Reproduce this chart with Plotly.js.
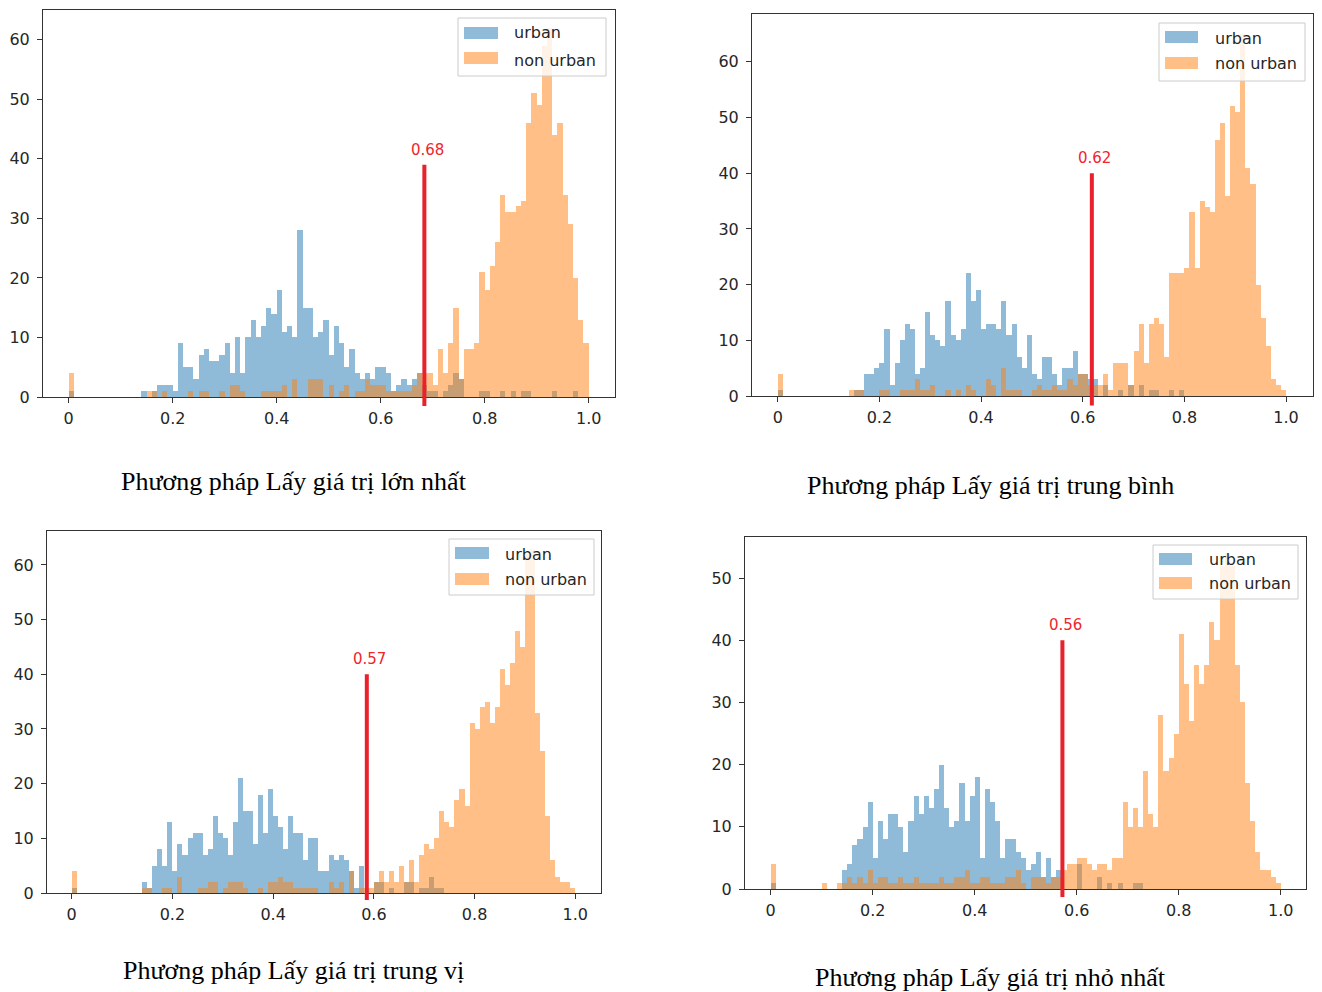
<!DOCTYPE html>
<html><head><meta charset="utf-8">
<script src="https://cdn.plot.ly/plotly-3.0.1.min.js"></script>
<style>html,body{margin:0;padding:0;background:#fff}#chart{width:1322px;height:992px}</style>
</head><body><div id="chart"></div>
<script>
// ---------- DATA ----------
const binWidth = 0.01;
const nBins = 100;
const seriesNames = ['urban', 'non urban'];
const captions = [
  'Phương pháp Lấy giá trị lớn nhất',
  'Phương pháp Lấy giá trị trung bình',
  'Phương pháp Lấy giá trị trung vị',
  'Phương pháp Lấy giá trị nhỏ nhất'
];
const thresholdLabels = ['0.68', '0.62', '0.57', '0.56'];
const thresholdPos = [0.684, 0.618, 0.586, 0.572];
const thresholdTop = [39, 40, 40, 40];
const thresholdBottom = [-1.5, -1.7, -1.3, -1.3];

const xTickVals = [0, 0.2, 0.4, 0.6, 0.8, 1.0];
const xTickText = ['0', '0.2', '0.4', '0.6', '0.8', '1.0'];
const yTickVals60 = [0, 10, 20, 30, 40, 50, 60];
const yTickVals50 = [0, 10, 20, 30, 40, 50];

// Panel 1: Lấy giá trị lớn nhất
const urban1 = [
  1,0,0,0,0,0,0,0,0,0,
  0,0,0,0,1,0,1,2,2,2,
  1,9,5,5,3,7,8,6,6,7,
  9,4,10,4,10,13,10,12,15,14,
  18,11,12,10,28,15,15,10,11,13,
  7,12,9,5,8,4,3,4,3,5,
  5,4,1,2,3,2,3,4,2,1,
  1,0,1,2,4,3,0,0,0,1,
  1,0,0,1,0,1,0,1,1,0,
  0,0,0,1,0,0,0,1,0,0];
const nonUrban1 = [
  4,0,0,0,0,0,0,0,0,0,
  0,0,0,0,0,1,1,0,1,0,
  0,0,0,1,0,1,1,0,0,1,
  0,2,2,1,0,0,0,1,1,1,
  1,2,0,3,0,0,3,3,3,0,
  2,0,1,2,0,1,1,3,2,2,
  2,1,1,1,1,1,2,4,4,4,
  2,8,4,9,15,3,8,8,9,21,
  18,22,26,34,31,31,32,33,46,51,
  49,59,62,44,46,34,29,20,13,9];

// Panel 2: Lấy giá trị trung bình
const urban2 = [
  1,0,0,0,0,0,0,0,0,0,
  0,0,0,0,0,1,1,4,4,5,
  6,12,2,6,10,13,12,4,5,15,
  11,10,9,17,11,10,12,22,17,19,
  12,13,13,12,17,11,13,7,5,11,
  4,3,7,7,4,2,5,5,8,4,
  4,3,3,0,2,0,0,1,0,2,
  0,2,0,1,1,0,0,1,0,1,
  0,0,0,0,0,0,0,0,0,0,
  0,0,0,0,0,0,0,0,0,0];
const nonUrban2 = [
  4,0,0,0,0,0,0,0,0,0,
  0,0,0,0,1,1,1,0,0,0,
  1,1,0,0,1,1,1,3,1,1,
  2,0,0,1,0,1,0,2,1,0,
  0,3,2,0,5,1,1,1,0,0,
  1,2,1,1,2,1,1,3,2,4,
  4,2,2,2,4,1,6,6,6,2,
  8,13,6,13,14,13,7,22,22,22,
  23,33,23,35,34,33,46,49,36,52,
  51,65,41,38,20,14,9,3,2,1];

// Panel 3: Lấy giá trị trung vị
const urban3 = [
  1,0,0,0,0,0,0,0,0,0,
  0,0,0,0,2,1,5,8,5,13,
  4,9,7,10,11,11,7,8,14,11,
  10,7,13,21,15,15,9,18,11,19,
  14,12,8,14,11,11,6,10,10,4,
  4,7,6,7,6,4,1,5,0,0,
  2,2,0,1,0,0,2,2,0,1,
  1,3,1,1,0,0,0,0,0,0,
  0,0,0,0,0,0,0,0,0,0,
  0,0,0,0,0,0,0,0,0,0];
const nonUrban3 = [
  4,0,0,0,0,0,0,0,0,0,
  0,0,0,0,1,1,0,0,1,1,
  0,3,0,0,0,1,1,2,2,0,
  1,2,2,2,1,0,0,1,0,2,
  2,3,2,2,1,1,1,1,1,0,
  0,2,1,2,0,4,0,1,1,1,
  2,4,2,4,2,5,2,6,2,7,
  9,8,10,15,13,12,17,19,16,31,
  30,34,35,31,34,41,38,42,48,45,
  62,63,33,26,14,6,3,2,2,1];

// Panel 4: Lấy giá trị nhỏ nhất
const urban4 = [
  1,0,0,0,0,0,0,0,0,0,
  0,0,0,0,3,4,7,8,10,14,
  5,11,8,12,12,10,6,11,15,12,
  15,13,16,20,13,10,11,17,11,15,
  18,5,16,14,11,5,8,8,6,5,
  3,4,6,2,5,2,3,0,0,0,
  4,0,0,0,2,0,1,0,1,0,
  0,1,1,0,0,0,0,0,0,0,
  0,0,0,0,0,0,0,0,0,0,
  0,0,0,0,0,0,0,0,0,0];
const nonUrban4 = [
  4,0,0,0,0,0,0,0,0,0,
  1,0,0,1,1,2,1,2,1,3,
  1,2,2,1,1,2,1,1,2,1,
  1,1,1,2,1,1,2,2,3,1,
  1,2,2,1,1,1,2,2,3,1,
  0,2,2,2,1,2,2,3,4,4,
  5,5,4,3,4,4,3,5,5,14,
  10,13,10,19,12,10,28,19,21,25,
  41,33,27,36,33,36,43,40,52,54,
  52,36,30,17,11,6,3,3,2,1];

const urbanSeries = [urban1, urban2, urban3, urban4];
const nonUrbanSeries = [nonUrban1, nonUrban2, nonUrban3, nonUrban4];

// ---------- LAYOUT (pixel geometry) ----------
const W = 1322, H = 992;
const px = v => v / W;
const py = v => 1 - v / H;
const boxes = [
  {l: 43, r: 615, t: 10, b: 397},
  {l: 752, r: 1313, t: 14, b: 396},
  {l: 47, r: 601, t: 531, b: 893},
  {l: 745, r: 1306, t: 537, b: 889}
];
const xRanges = [[-0.0494, 1.0506], [-0.0506, 1.0531], [-0.049, 1.051], [-0.0504, 1.0496]];
const yMax = [65, 68.6, 66.2, 56.6];
const legendBoxes = [
  {l: 458, r: 606, t: 18, b: 76, sl: 464, sr: 498, s1: [27, 39], s2: [52, 64], tx: 512, c1: 33, c2: 60},
  {l: 1159, r: 1305, t: 23, b: 81, sl: 1165, sr: 1198, s1: [31, 43], s2: [57, 69], tx: 1213, c1: 38, c2: 64},
  {l: 449, r: 594, t: 539, b: 595, sl: 455, sr: 489, s1: [547, 559], s2: [573, 585], tx: 503, c1: 554, c2: 579},
  {l: 1153, r: 1298, t: 545, b: 599, sl: 1159, sr: 1192, s1: [553, 565], s2: [577, 589], tx: 1207, c1: 559, c2: 583}
];
const captionPos = [[294, 481], [990, 485], [293, 970], [990, 977]];

const blueFill = 'rgba(31,119,180,0.5)';
const orangeFill = 'rgba(255,127,14,0.5)';
const redColor = '#e8212b';
const tickFont = {family: 'DejaVu Sans, sans-serif', size: 16, color: '#262626'};

const binCenters = Array.from({length: nBins}, (_, i) => (i + 0.5) * binWidth);

const traces = [];
const layout = {
  width: W, height: H,
  margin: {l: 0, r: 0, t: 0, b: 0},
  paper_bgcolor: '#ffffff', plot_bgcolor: '#ffffff',
  barmode: 'overlay', bargap: 0,
  showlegend: false,
  shapes: [], annotations: []
};

for (let i = 0; i < 4; i++) {
  const sfx = i === 0 ? '' : String(i + 1);
  const xa = 'x' + sfx, ya = 'y' + sfx;
  const b = boxes[i];
  traces.push({
    type: 'bar', x: binCenters, y: urbanSeries[i], width: binWidth,
    name: seriesNames[0], xaxis: xa, yaxis: ya,
    marker: {color: blueFill, line: {width: 0}}, hoverinfo: 'x+y+name'
  });
  traces.push({
    type: 'bar', x: binCenters, y: nonUrbanSeries[i], width: binWidth,
    name: seriesNames[1], xaxis: xa, yaxis: ya,
    marker: {color: orangeFill, line: {width: 0}}, hoverinfo: 'x+y+name'
  });
  layout['xaxis' + sfx] = {
    domain: [px(b.l), px(b.r)], anchor: ya, range: xRanges[i],
    tickmode: 'array', tickvals: xTickVals, ticktext: xTickText,
    ticks: 'outside', ticklen: 5, tickwidth: 1, tickcolor: '#333',
    showline: true, mirror: true, linecolor: '#333', linewidth: 1,
    showgrid: false, zeroline: false, tickfont: tickFont, ticklabelstandoff: 2
  };
  layout['yaxis' + sfx] = {
    domain: [py(b.b), py(b.t)], anchor: xa, range: [0, yMax[i]],
    tickmode: 'array', tickvals: i === 3 ? yTickVals50 : yTickVals60,
    ticks: 'outside', ticklen: 5, tickwidth: 1, tickcolor: '#333',
    showline: true, mirror: true, linecolor: '#333', linewidth: 1,
    showgrid: false, zeroline: false, tickfont: tickFont, ticklabelstandoff: 4
  };
  // threshold line
  layout.shapes.push({
    type: 'line', xref: xa, yref: ya + ' domain',
    x0: thresholdPos[i], x1: thresholdPos[i],
    y0: thresholdBottom[i] / yMax[i], y1: thresholdTop[i] / yMax[i],
    line: {color: redColor, width: 4}
  });
  layout.annotations.push({
    xref: xa, yref: ya, x: thresholdPos[i], y: thresholdTop[i],
    xanchor: 'center', yanchor: 'bottom', xshift: 3, yshift: 4,
    text: thresholdLabels[i], showarrow: false,
    font: {family: 'DejaVu Sans, sans-serif', size: 15, color: '#f0252d'}
  });
  // legend (matplotlib style)
  const L = legendBoxes[i];
  layout.shapes.push({
    type: 'rect', xref: 'paper', yref: 'paper',
    x0: px(L.l), x1: px(L.r), y0: py(L.b), y1: py(L.t),
    fillcolor: 'rgba(255,255,255,0.8)', line: {color: '#cccccc', width: 1}
  });
  layout.shapes.push({
    type: 'rect', xref: 'paper', yref: 'paper',
    x0: px(L.sl), x1: px(L.sr), y0: py(L.s1[1]), y1: py(L.s1[0]),
    fillcolor: blueFill, line: {width: 0}
  });
  layout.shapes.push({
    type: 'rect', xref: 'paper', yref: 'paper',
    x0: px(L.sl), x1: px(L.sr), y0: py(L.s2[1]), y1: py(L.s2[0]),
    fillcolor: orangeFill, line: {width: 0}
  });
  [[seriesNames[0], L.c1], [seriesNames[1], L.c2]].forEach(([t, c]) => {
    layout.annotations.push({
      xref: 'paper', yref: 'paper', x: px(L.tx), y: py(c),
      xanchor: 'left', yanchor: 'middle', text: t, showarrow: false,
      font: {family: 'DejaVu Sans, sans-serif', size: 16, color: '#262626'}
    });
  });
  // caption
  layout.annotations.push({
    xref: 'paper', yref: 'paper', x: px(captionPos[i][0]), y: py(captionPos[i][1]),
    xanchor: 'center', yanchor: 'middle', text: captions[i], showarrow: false,
    font: {family: 'Liberation Serif, Times New Roman, serif', size: 26, color: '#000000'}
  });
}

Plotly.newPlot('chart', traces, layout, {displayModeBar: false, staticPlot: true});
</script>
</body></html>
